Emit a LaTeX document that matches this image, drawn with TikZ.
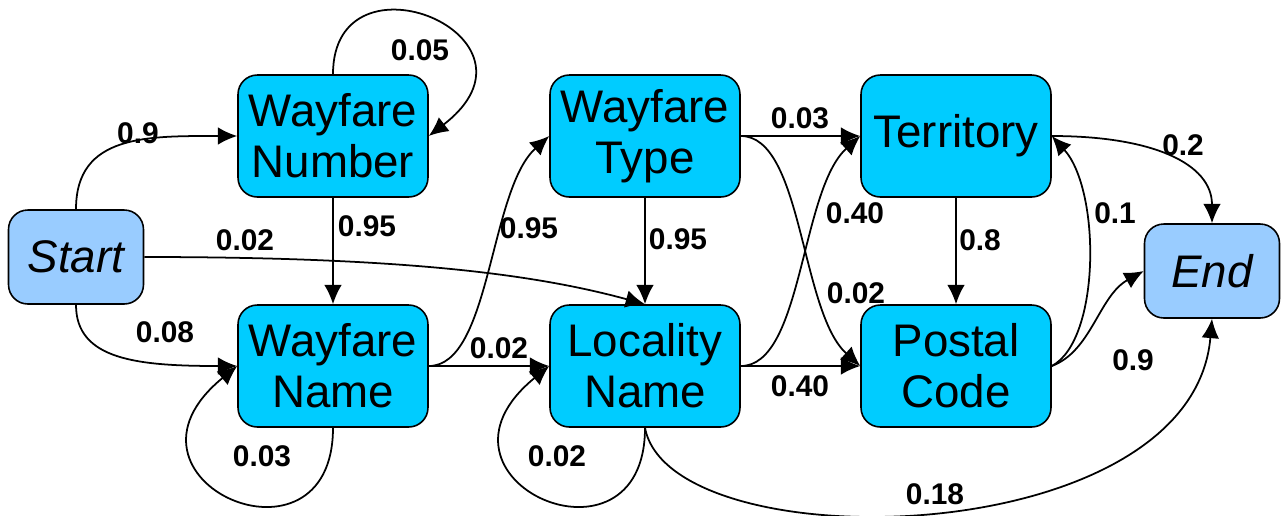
\documentclass[tikz,border=0pt]{standalone}
\usepackage{fontspec}
\setmainfont{Liberation Sans}
\usepackage{tikz}
\usetikzlibrary{arrows.meta}
\tikzset{>={Latex[length=11pt,width=10pt]}}
\definecolor{statecyan}{HTML}{00CCFF}
\definecolor{termblue}{HTML}{99CCFF}

\begin{document}
\begin{tikzpicture}[x=0.02cm,y=-0.02cm,
	state/.style={draw,line width=0.9pt,rounded corners=11pt,fill=statecyan,inner sep=2pt,
		minimum width=3.8cm,minimum height=2.44cm,align=center,font=\fontsize{26}{29}\selectfont},
	term/.style={state,fill=termblue,minimum width=2.7cm,minimum height=1.88cm,
		font=\fontsize{26}{29}\selectfont\itshape},
	prob/.style={font=\fontsize{17}{19}\selectfont\bfseries},
	trans/.style={->,line width=1pt}]
		\useasboundingbox (0,0) rectangle (1281,515);
		% states
		\node[term] (start) at (76,257) {Start};
		\node[state] (wnum) at (333,136) {Wayfare\\Number};
		\node[state] (wname) at (333,366) {Wayfare\\Name};
		\node[state] (wtype) at (645,136) {Wayfare\\Type};
		\node[state] (loc) at (645,366) {Locality\\Name};
		\node[state] (terr) at (956,136) {Territory};
		\node[state] (postal) at (956,366) {Postal\\Code};
		\node[term] (end) at (1212,271) {End};
		% transitions
		\draw[trans] (start.north) .. controls +(0,-75) and +(-90,0) .. (wnum.west);
		\draw[trans] (start.south) .. controls +(0,55) and +(-100,0) .. (wname.west);
		\draw[trans] (start.east) .. controls +(260,0) and +(-110,-30) .. (loc.north);
		\draw[trans] (wnum.north) .. controls +(0,-130) and +(130,-100) .. (wnum.east);
		\draw[trans] (wnum) -- (wname);
		\draw[trans] (wname.south) .. controls +(0,155) and +(-140,114) .. (wname.west);
		\draw[trans] (wname.east) .. controls +(62,0) and +(-60,54) .. (wtype.west);
		\draw[trans] (wname) -- (loc);
		\draw[trans] (wtype) -- (loc);
		\draw[trans] (wtype) -- (terr);
		\draw[trans] (wtype.east) .. controls +(62,0) and +(-60,-54) .. (postal.west);
		\draw[trans] (loc.east) .. controls +(62,0) and +(-60,54) .. (terr.west);
		\draw[trans] (loc) -- (postal);
		\draw[trans] (loc.south) .. controls +(0,155) and +(-140,114) .. (loc.west);
		\draw[trans] (loc.south) .. controls +(25,135) and +(-20,235) .. (end.south);
		\draw[trans] (terr) -- (postal);
		\draw[trans] (terr.east) .. controls +(100,0) and +(0,-60) .. (end.north);
		\draw[trans] (postal.east) .. controls +(49,-26) and +(49,54) .. (terr.east);
		\draw[trans] (postal.east) .. controls +(40,-15) and +(-45,25) .. (end.west);
		% probabilities
		\node[prob] (pa) at (138,133) {0.9};
		\node[prob] (pb) at (165,332) {0.08};
		\node[prob] (pc) at (245,240) {0.02};
		\node[prob] (pd) at (420,50) {0.05};
		\node[prob] (pe) at (367,226) {0.95};
		\node[prob] (pf) at (262,456) {0.03};
		\node[prob] (pg) at (529,228) {0.95};
		\node[prob] (ph) at (499,348) {0.02};
		\node[prob] (pi) at (678,239) {0.95};
		\node[prob] (pj) at (800,118) {0.03};
		\node[prob] (pk) at (855,213) {0.40};
		\node[prob] (pl) at (856,293) {0.02};
		\node[prob] (pm) at (800,386) {0.40};
		\node[prob] (pn) at (557,456) {0.02};
		\node[prob] (po) at (935,494) {0.18};
		\node[prob] (pp) at (980,240) {0.8};
		\node[prob] (pq) at (1183,145) {0.2};
		\node[prob] (pr) at (1115,213) {0.1};
		\node[prob] (ps) at (1133,360) {0.9};
	\end{tikzpicture}
\end{document}
